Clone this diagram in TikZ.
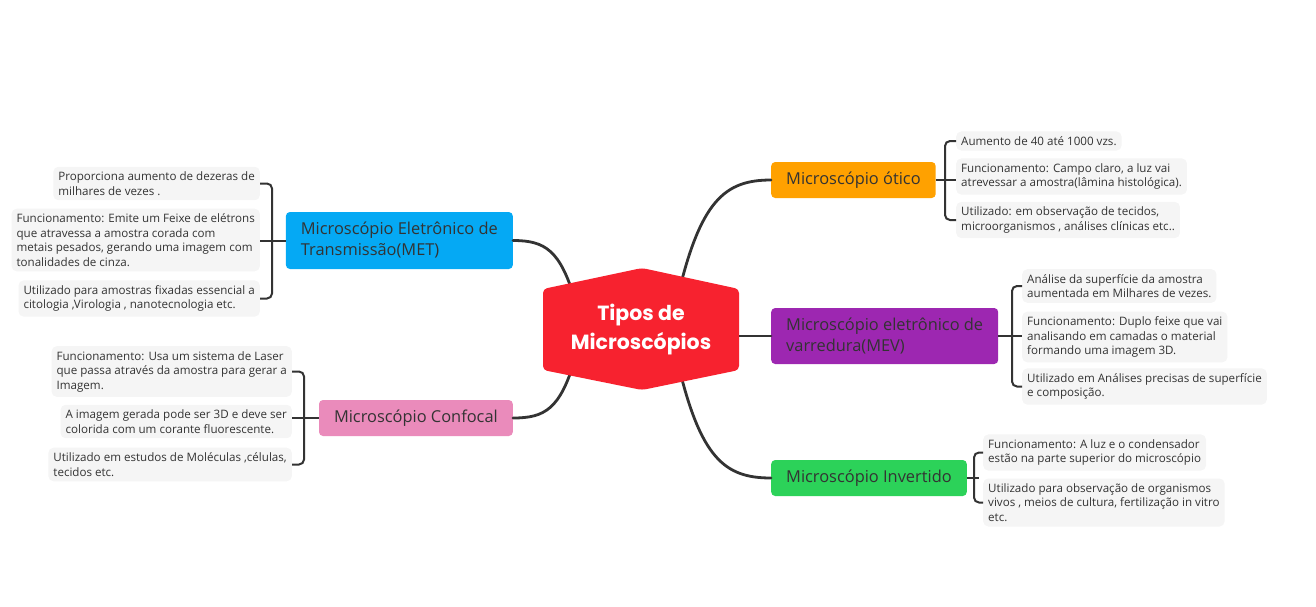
\documentclass[tikz,border=0pt]{standalone}
\usepackage{fontspec}
\setmainfont{Open Sans}
\newfontfamily\centfont{Poppins}
\usetikzlibrary{calc}
\definecolor{txt}{HTML}{333333}
\definecolor{linec}{HTML}{333333}
\definecolor{leafbg}{HTML}{F5F5F5}
\definecolor{corange}{HTML}{FFA100}
\definecolor{cpurple}{HTML}{9D27B1}
\definecolor{cgreen}{HTML}{2CD259}
\definecolor{cblue}{HTML}{05A9F4}
\definecolor{cpink}{HTML}{EA8BBB}
\definecolor{cred}{HTML}{F7222F}
\begin{document}
\begin{tikzpicture}[x=1pt,y=-1pt,
  branch/.style={rounded corners=4, text=txt, font=\fontsize{16.4}{21}\selectfont, align=left, inner xsep=15, inner ysep=4, minimum height=36},
  leaf/.style={fill=leafbg, rounded corners=5, text=txt, font=\fontsize{11.6}{14.5}\selectfont, align=left, inner xsep=5, inner ysep=5},
  conn/.style={draw=linec, line width=2.8, line cap=round},
  brk/.style={draw=linec, line width=2, rounded corners=5}]
\useasboundingbox (0,0) rectangle (1316,606);

% branch nodes
\node[branch, fill=corange, anchor=west] (oti) at (771,180) {Microscópio ótico};
\node[branch, fill=cpurple, anchor=west, minimum height=56] (mev) at (771,336) {Microscópio eletrônico de\\varredura(MEV)};
\node[branch, fill=cgreen, anchor=west] (inv) at (771,478) {Microscópio Invertido};
\node[branch, fill=cblue, anchor=east, minimum height=57] (met) at (513,240.5) {Microscópio Eletrônico de\\Transmissão(MET)};
\node[branch, fill=cpink, anchor=east] (conf) at (513,418) {Microscópio Confocal};

% leaves
\node[leaf, anchor=west] (o1) at (956,141) {Aumento de 40 até 1000 vzs.};
\node[leaf, anchor=west] (o2) at (956,176.5) {Funcionamento: Campo claro, a luz vai\\atrevessar a amostra(lâmina histológica).};
\node[leaf, anchor=west] (o3) at (956,220) {Utilizado: em observação de tecidos,\\microorganismos , análises clínicas etc..};

\node[leaf, anchor=west] (m1) at (1022,286) {Análise da superfície da amostra\\aumentada em Milhares de vezes.};
\node[leaf, anchor=west] (m2) at (1022,337) {Funcionamento: Duplo feixe que vai\\analisando em camadas o material\\formando uma imagem 3D.};
\node[leaf, anchor=west] (m3) at (1022,386.5) {Utilizado em Análises precisas de superfície\\e composição.};

\node[leaf, anchor=west] (i1) at (983,452.5) {Funcionamento: A luz e o condensador\\estão na parte superior do microscópio};
\node[leaf, anchor=west] (i2) at (983,502.5) {Utilizado para observação de organismos\\vivos , meios de cultura, fertilização in vitro\\etc.};

\node[leaf, anchor=east] (e1) at (260,183.5) {Proporciona aumento de dezeras de\\milhares de vezes .};
\node[leaf, anchor=east] (e2) at (260,240) {Funcionamento: Emite um Feixe de elétrons\\que atravessa a  amostra corada com\\metais pesados, gerando uma imagem com\\tonalidades de cinza.};
\node[leaf, anchor=east] (e3) at (260,298.5) {Utilizado para amostras fixadas essencial a\\citologia ,Virologia , nanotecnologia etc.};

\node[leaf, anchor=east] (f1) at (292,371.5) {Funcionamento: Usa um sistema de Laser\\que passa através da amostra para gerar a\\Imagem.};
\node[leaf, anchor=east] (f2) at (292,421.5) {A imagem gerada pode ser 3D e deve ser\\colorida com um corante fluorescente.};
\node[leaf, anchor=east] (f3) at (292,464.5) {Utilizado em estudos de Moléculas ,células,\\tecidos etc.};

% brackets
\draw[brk] (o1.west) -- ++(-11,0) |- (o3.west);
\draw[linec, line width=2] (oti.east) -- (oti.east -| o2.west);
\draw[brk] (m1.west) -- ++(-10,0) |- (m3.west);
\draw[linec, line width=2] (mev.east) -- (mev.east -| m2.west);
\draw[brk] (i1.west) -- ++(-9,0) |- (i2.west);
\draw[linec, line width=2] (inv.east) -- ++(12,0);
\draw[brk] (e1.east) -- ++(12,0) |- (e3.east);
\draw[linec, line width=2] (met.west) -- (met.west -| e2.east);
\draw[brk] (f1.east) -- ++(12,0) |- (f3.east);
\draw[linec, line width=2] (conf.west) -- (conf.west -| f2.east);

% main connectors
\coordinate (c) at (641,330);
\coordinate (sA) at (677,300);
\coordinate (sB) at (677,359);
\coordinate (sC) at (575,300);
\coordinate (sD) at (575,359);
\draw[conn] (sA) .. controls (700,200) and (725,180) .. (oti.west);
\draw[conn] (sB) .. controls (700,459) and (725,478) .. (inv.west);
\draw[conn] (sC) .. controls (560,250) and (545,240.5) .. (met.east);
\draw[conn] (sD) .. controls (560,409) and (545,418) .. (conf.east);
\draw[conn] (mev.west) -- (mev.west -| c);

% central hexagon
\fill[cred, rounded corners=4] (543,289) -- (642,268) -- (739,289) -- (739,370) -- (642,390) -- (543,370) -- cycle;
\node[text=white, font=\centfont\bfseries\fontsize{20.5}{29}\selectfont, align=center] (ct) at (c) {Tipos de\\Microscópios};
\end{tikzpicture}
\end{document}
